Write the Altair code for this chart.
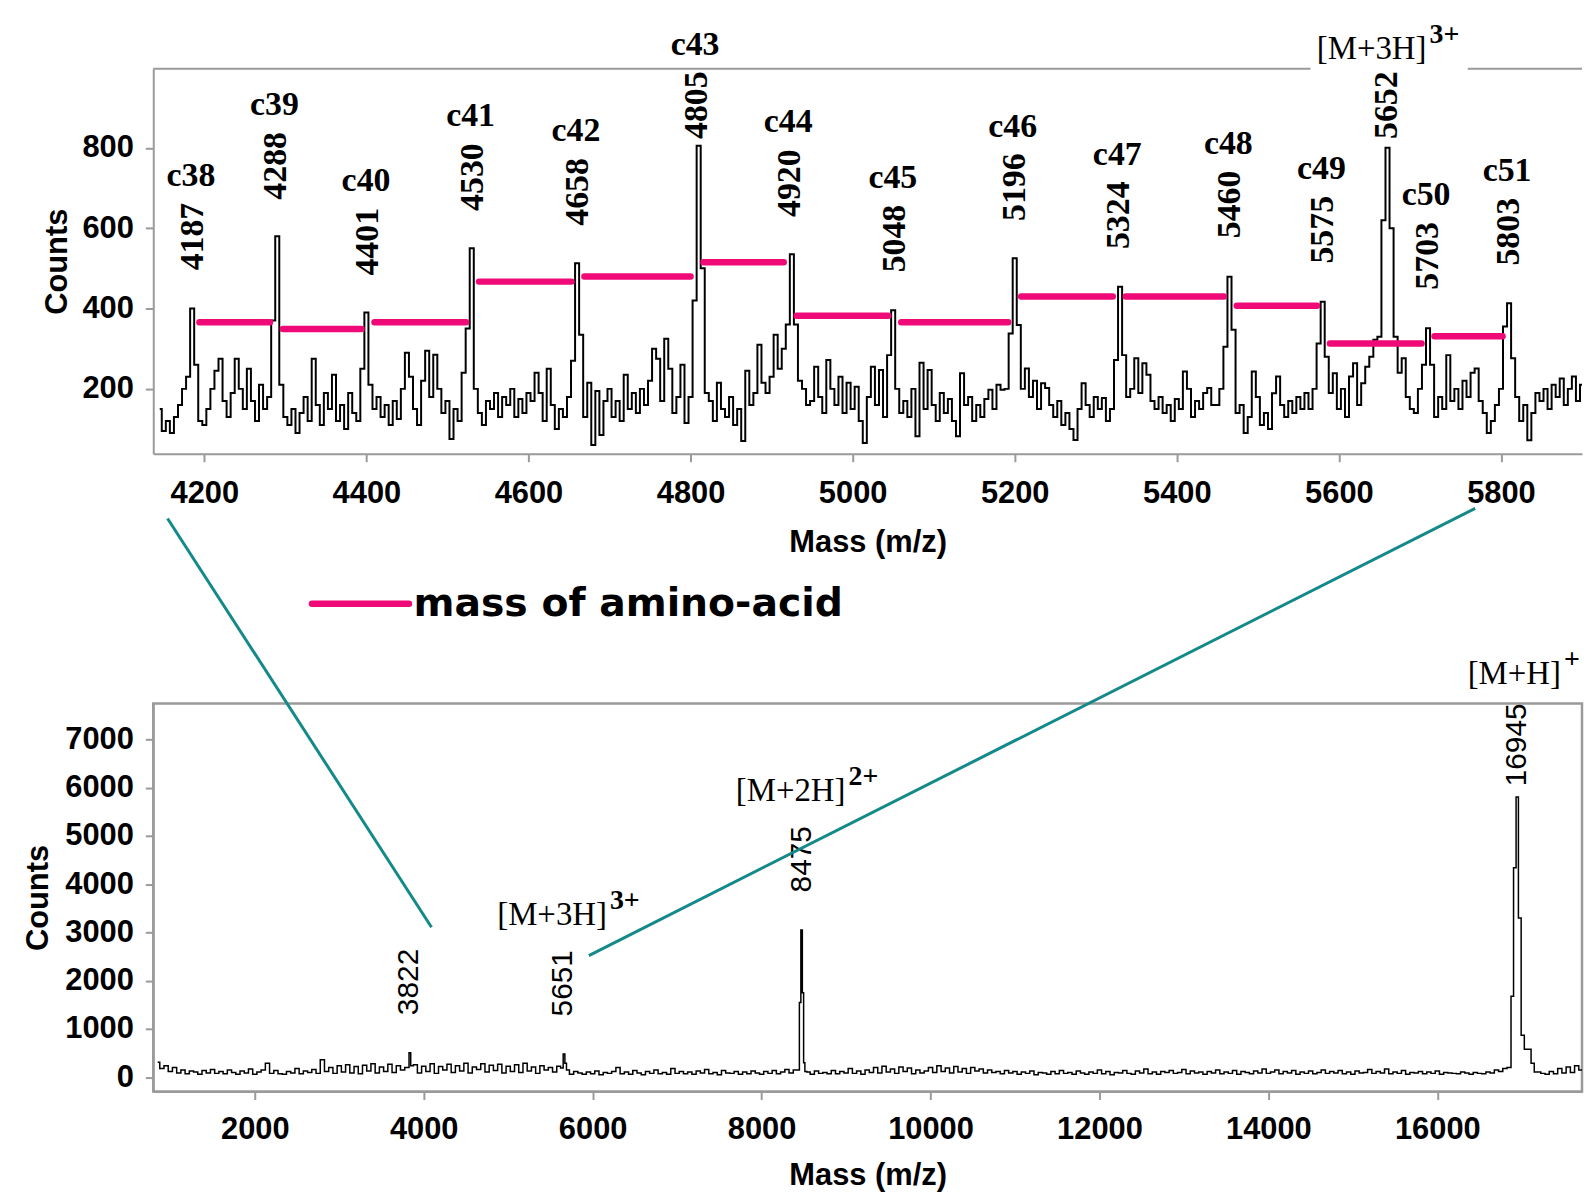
import altair as alt
import pandas as pd

# ---------------- upper panel: zoomed spectrum ----------------
TOP_START, TOP_STEP = 4145, 5          # sampling grid of the zoomed trace (m/z)
top_counts = [
    150, 95, 120, 90, 130, 160, 200, 230, 400, 260,    # 4145
    120, 110, 150, 200, 245, 275, 170, 130, 190, 275,  # 4195
    200, 150, 250, 170, 120, 210, 150, 180, 370, 580,  # 4245
    210, 130, 110, 150, 90, 140, 180, 120, 275, 160,   # 4295
    110, 190, 150, 235, 120, 160, 100, 190, 140, 120,  # 4345
    250, 390, 210, 150, 180, 130, 160, 110, 170, 125,  # 4395
    200, 290, 230, 150, 110, 220, 295, 180, 285, 200,  # 4445
    140, 170, 75, 150, 120, 240, 350, 550, 200, 140,   # 4495
    110, 170, 150, 190, 130, 180, 160, 200, 130, 175,  # 4545
    140, 190, 170, 240, 190, 120, 250, 160, 100, 150,  # 4595
    130, 180, 270, 513, 335, 130, 215, 60, 195, 85,    # 4645
    170, 200, 130, 170, 120, 235, 150, 190, 140, 200,  # 4695
    160, 220, 300, 275, 170, 325, 250, 140, 180, 260,  # 4745
    115, 180, 420, 805, 500, 190, 170, 120, 215, 150,  # 4795
    130, 180, 110, 150, 70, 245, 160, 190, 310, 215,   # 4845
    190, 230, 335, 250, 300, 360, 535, 360, 220, 200,  # 4895
    160, 170, 255, 180, 140, 272, 200, 160, 230, 140,  # 4945
    215, 150, 205, 120, 65, 180, 255, 160, 247, 130,   # 4995
    284, 396, 200, 140, 170, 130, 200, 82, 265, 150,   # 5045
    247, 160, 120, 190, 140, 175, 120, 82, 239, 160,   # 5095
    180, 120, 160, 130, 175, 198, 150, 210, 198, 200,  # 5145
    338, 525, 359, 200, 251, 180, 220, 150, 214, 202,  # 5195
    160, 130, 170, 110, 140, 100, 73, 150, 214, 160,   # 5245
    130, 180, 150, 177, 120, 150, 272, 454, 284, 180,  # 5295
    200, 276, 190, 264, 235, 170, 150, 180, 140, 160,  # 5345
    120, 175, 150, 243, 200, 130, 170, 150, 190, 202,  # 5395
    160, 160, 200, 305, 479, 347, 140, 160, 90, 130,   # 5445
    243, 180, 110, 140, 100, 189, 231, 160, 130, 170,  # 5495
    140, 180, 150, 190, 150, 200, 313, 417, 280, 190,  # 5545
    239, 150, 200, 130, 231, 264, 160, 214, 255, 280,  # 5595
    322, 330, 620, 800, 600, 330, 240, 276, 180, 150,  # 5645
    140, 200, 260, 351, 260, 130, 180, 150, 284, 170,  # 5695
    200, 150, 220, 180, 240, 251, 170, 140, 90, 120,   # 5745
    160, 200, 355, 413, 276, 180, 120, 160, 72, 140,   # 5795
    190, 170, 200, 150, 210, 180, 226, 160, 200, 231,  # 5845
    170, 210, 160, 190,                                # 5895
]

peak_names = ["c38", "c39", "c40", "c41", "c42", "c43", "c44", "c45", "c46",
              "c47", "c48", "c49", "[M+3H]", "c50", "c51"]
# annotated masses (label text) and where each peak is drawn on the axis
peak_label = [4187, 4288, 4401, 4530, 4658, 4805, 4920, 5048, 5196,
              5324, 5460, 5575, 5652, 5703, 5803]
peak_pos = [4186, 4289, 4402, 4531, 4661, 4808, 4923, 5052, 5200,
            5329, 5466, 5581, 5659, 5710, 5810]
peak_top = [402, 578, 389, 550, 513, 805, 535, 397, 525,
            455, 482, 419, 800, 354, 414]
# heights of the "mass of amino-acid" bars between consecutive c-ions
aa_levels = [366, 349, 366, 467, 480, 515, 382, 366, 430, 430, 407, 313, 331]

top_x_ticks = [4200, 4400, 4600, 4800, 5000, 5200, 5400, 5600, 5800]
top_y_ticks = [200, 400, 600, 800]

# ---------------- lower panel: full spectrum ----------------
BOT_START, BOT_STEP = 850, 50
bottom_baseline = [
    310, 180, 240, 120, 200, 90, 150, 70, 130, 110,    # 850
    60, 140, 90, 160, 80, 120, 70, 150, 100, 60,       # 1350
    130, 90, 170, 60, 110, 150, 290, 80, 140, 70,      # 1850
    60, 120, 90, 180, 70, 130, 100, 160, 80, 360,      # 2350
    120, 200, 80, 240, 110, 260, 90, 220, 70, 250,     # 2850
    130, 280, 90, 210, 120, 270, 100, 240, 150, 200,   # 3350
    130, 260, 90, 230, 120, 280, 80, 220, 150, 270,    # 3850
    100, 240, 130, 290, 90, 210, 160, 280, 110, 250,   # 4350
    140, 270, 90, 230, 120, 260, 100, 290, 130, 210,   # 4850
    80, 240, 150, 200, 110, 230, 100, 140, 60, 120,    # 5350
    90, 60, 110, 70, 130, 50, 100, 80, 120, 200,       # 5850
    70, 110, 60, 140, 90, 50, 120, 80, 150, 70,        # 6350
    100, 60, 180, 80, 120, 70, 110, 60, 130, 90,       # 6850
    160, 70, 100, 50, 140, 90, 80, 120, 60, 110,       # 7350
    70, 130, 90, 60, 120, 80, 140, 70, 110, 160,       # 7850
    90, 150, 120, 130, 110, 60, 130, 80, 100, 70,      # 8350
    140, 70, 120, 90, 180, 80, 130, 60, 150, 100,      # 8850
    200, 90, 230, 110, 170, 80, 210, 120, 190, 70,     # 9350
    150, 90, 130, 200, 100, 240, 120, 190, 90, 220,    # 9850
    110, 180, 80, 200, 130, 170, 90, 150, 100, 120,    # 10350
    70, 140, 90, 120, 60, 110, 80, 130, 50, 100,       # 10850
    90, 60, 120, 70, 140, 80, 100, 60, 130, 90,        # 11350
    60, 110, 80, 150, 70, 120, 50, 100, 90, 140,       # 11850
    80, 60, 130, 90, 170, 70, 110, 60, 120, 100,       # 12350
    140, 80, 100, 160, 70, 130, 90, 110, 60, 120,      # 12850
    90, 150, 70, 110, 80, 140, 60, 120, 100, 70,       # 13350
    130, 90, 170, 80, 110, 150, 70, 120, 90, 140,      # 13850
    60, 110, 80, 130, 70, 100, 150, 80, 120, 90,       # 14350
    140, 70, 110, 60, 130, 90, 100, 160, 80, 120,      # 14850
    90, 170, 70, 110, 80, 140, 60, 100, 90, 120,       # 15350
    70, 110, 80, 130, 60, 100, 90, 80, 70, 110,        # 15850
    90, 60, 100, 80, 70, 110, 90, 150, 120, 180,       # 16350
    200, 150, 120, 100, 90, 80, 100, 110, 80, 60,      # 16850
    120, 70, 180, 90, 210, 100, 240, 150, 260, 130,    # 17350
]
# sampled profiles of the four labelled peaks (m/z as drawn, counts)
bottom_peak_profiles = [
    ([3815, 3837, 3855], [200, 507, 240]),
    ([5640, 5662, 5680, 5700], [190, 480, 290, 150]),
    ([8440, 8455, 8475, 8490, 8505, 8520], [150, 1550, 3050, 1750, 300, 120]),
    ([16860, 16885, 16920, 16945, 16975, 17010, 17050, 17090, 17130, 17165],
     [200, 1680, 4340, 5810, 3300, 870, 580, 580, 290, 110]),
]
bottom_label_mass = [3822, 5651, 8475, 16945]
bottom_label_top = [507, 480, 3050, 5810]
ion_mass = [5651, 8475, 16945]
ion_main = ["[M+3H]", "[M+2H]", "[M+H]"]
ion_sup = ["3+", "2+", "+"]

bot_x_ticks = [2000, 4000, 6000, 8000, 10000, 12000, 14000, 16000]
bot_y_ticks = [0, 1000, 2000, 3000, 4000, 5000, 6000, 7000]

# zoom connectors (lower-panel data units)
connector_from_mass = [967, 16448]
connector_from_count = [11582, 11791]
connector_to_mass = [4092, 5955]
connector_to_count = [3110, 2522]

# ---------------- styles ----------------
PINK = "#f00a78"
TEAL = "#14898a"
GRAY = "#9a9a9a"
AXF = "Liberation Sans"
SERIF = "Liberation Serif"
SANS = "Liberation Sans"

W = 1436
H_TOP = 387
H_BOT = 390
TOP_XDOM = [4137, 5900]
TOP_YDOM = [38.5, 997]
BOT_XDOM = [798, 17713]
BOT_YDOM = [-296, 7747]

# ---------------- upper panel ----------------
top_df = pd.DataFrame({
    "mass": [TOP_START + TOP_STEP * i for i in range(len(top_counts))],
    "count": top_counts,
})

tx = alt.X("mass:Q", scale=alt.Scale(domain=TOP_XDOM, nice=False, zero=False),
           axis=alt.Axis(values=top_x_ticks, format="d", title="Mass (m/z)",
                         labelPadding=17, titlePadding=19))
ty = alt.Y("count:Q", scale=alt.Scale(domain=TOP_YDOM, nice=False, zero=False),
           axis=alt.Axis(values=top_y_ticks, format="d", title="Counts",
                         titlePadding=8))

top_line = alt.Chart(top_df).mark_line(
    interpolate="step", color="black", strokeWidth=2, clip=True
).encode(x=tx, y=ty)

# bars link consecutive c-ions (the [M+3H] peak is not part of the ladder)
c_idx = [i for i, n in enumerate(peak_names) if n.startswith("c")]
aa_df = pd.DataFrame({
    "mass": [peak_pos[c_idx[k]] + 8 for k in range(len(aa_levels))],
    "mass2": [peak_pos[c_idx[k + 1]] - 8 for k in range(len(aa_levels))],
    "count": aa_levels,
})
aa_bars = alt.Chart(aa_df).mark_rule(
    color=PINK, strokeWidth=6.5, strokeCap="round"
).encode(x=tx, x2="mass2:Q", y=ty)

lab_df = pd.DataFrame({"mass": peak_pos, "top": peak_top, "name": peak_names})
lab_df["count"] = [min(t + 93, 822) for t in peak_top]
lab_df["txt"] = [str(m) for m in peak_label]

num_text = alt.Chart(lab_df).mark_text(
    angle=270, align="left", baseline="middle", font=SERIF, fontWeight="bold",
    fontSize=34, color="black"
).encode(x=tx, y=ty, text="txt:N")

cdf = lab_df[lab_df["name"].str.startswith("c")].copy()
cdf["count"] = cdf["count"] + 235
c_text = alt.Chart(cdf).mark_text(
    align="center", baseline="middle", font=SERIF, fontWeight="bold",
    fontSize=34, color="black", dx=-2
).encode(x=tx, y=ty, text="name:N")

idf = lab_df[~lab_df["name"].str.startswith("c")].copy()
idf["count"] = idf["count"] + 225
idf["sup"] = "3+"
ion_top_main = alt.Chart(idf).mark_text(
    align="right", baseline="middle", font=SERIF, fontSize=33, color="black", dx=40
).encode(x=tx, y=ty, text="name:N")
ion_top_sup = alt.Chart(idf).mark_text(
    align="left", baseline="middle", font=SERIF, fontSize=28, fontWeight="bold",
    color="black", dx=43, dy=-14
).encode(x=tx, y=ty, text="sup:N")

frame_df = pd.DataFrame({"mass": [TOP_XDOM[0], 5759], "mass2": [5565, TOP_XDOM[1]],
                         "count": [TOP_YDOM[1], TOP_YDOM[1]]})
frame_top = alt.Chart(frame_df).mark_rule(color=GRAY, strokeWidth=2).encode(
    x=tx, x2="mass2:Q", y=ty)

top = alt.layer(top_line, frame_top, aa_bars, num_text, c_text, ion_top_main,
                ion_top_sup).properties(
    width=W, height=H_TOP, view=alt.ViewBackground(stroke="transparent"))

# ---------------- lower panel ----------------
ranges = [(min(ms), max(ms)) for ms, _ in bottom_peak_profiles]
bm, bc = [], []
for i, c in enumerate(bottom_baseline):
    m = BOT_START + BOT_STEP * i
    if any(lo <= m <= hi for lo, hi in ranges):
        continue
    bm.append(m)
    bc.append(c)
for ms, cs in bottom_peak_profiles:
    bm += ms
    bc += cs
bot_df = pd.DataFrame({"mass": bm, "count": bc}).sort_values("mass")

bx = alt.X("mass:Q", scale=alt.Scale(domain=BOT_XDOM, nice=False, zero=False),
           axis=alt.Axis(values=bot_x_ticks, format="d", title="Mass (m/z)",
                         labelPadding=15, titlePadding=16))
by = alt.Y("count:Q", scale=alt.Scale(domain=BOT_YDOM, nice=False, zero=False),
           axis=alt.Axis(values=bot_y_ticks, format="d", title="Counts",
                         titlePadding=10))

bot_line = alt.Chart(bot_df).mark_line(
    interpolate="step", color="black", strokeWidth=1.5, clip=True
).encode(x=bx, y=by)

bl_df = pd.DataFrame({"mass": bottom_label_mass,
                      "count": [min(t + 780, 6030) for t in bottom_label_top],
                      "txt": [str(m) for m in bottom_label_mass]})
bot_num = alt.Chart(bl_df).mark_text(
    angle=270, align="left", baseline="middle", font=SANS, fontSize=30,
    color="black"
).encode(x=bx, y=by, text="txt:N")

base_of = dict(zip(bottom_label_mass, bl_df["count"]))
ion_df = pd.DataFrame({
    "mass": ion_mass,
    "count": [base_of[m] + (2100 if len(str(m)) == 4 else 2320) for m in ion_mass],
    "main": ion_main, "sup": ion_sup,
})
bot_ion_main = alt.Chart(ion_df).mark_text(
    align="right", baseline="middle", font=SERIF, fontSize=33, color="black", dx=44
).encode(x=bx, y=by, text="main:N")
bot_ion_sup = alt.Chart(ion_df).mark_text(
    align="left", baseline="middle", font=SERIF, fontSize=28, fontWeight="bold",
    color="black", dx=47, dy=-14
).encode(x=bx, y=by, text="sup:N")

conn_df = pd.DataFrame({"mass": connector_from_mass, "count": connector_from_count,
                        "mass2": connector_to_mass, "count2": connector_to_count})
connectors = alt.Chart(conn_df).mark_rule(color=TEAL, strokeWidth=3).encode(
    x=bx, y=by, x2="mass2:Q", y2="count2:Q")

leg_df = pd.DataFrame({"mass": [2677], "mass2": [3825], "count": [9814],
                       "txt": ["mass of amino-acid"]})
leg_line = alt.Chart(leg_df).mark_rule(color=PINK, strokeWidth=6.5,
                                       strokeCap="round").encode(
    x=bx, x2="mass2:Q", y=by)
leg_text = alt.Chart(leg_df).mark_text(
    align="left", baseline="middle", font="DejaVu Sans", fontWeight="bold",
    fontSize=39.5, color="black", dx=102
).encode(x=bx, y=by, text="txt:N")

bottom = alt.layer(bot_line, bot_num, bot_ion_main, bot_ion_sup, connectors,
                   leg_line, leg_text).properties(
    width=W, height=H_BOT,
    view=alt.ViewBackground(stroke=GRAY, strokeWidth=2.5))

chart = alt.vconcat(top, bottom, spacing=251, bounds="flush").properties(
    padding={"left": 13, "top": 9, "right": 0, "bottom": 0},
    background="white",
).configure_axis(
    domainColor=GRAY, domainWidth=2, tickColor=GRAY, tickWidth=2, tickSize=8,
    labelFont=AXF, labelFontSize=31, labelFontWeight="bold", labelColor="black",
    titleFont=AXF, titleFontSize=31, titleFontWeight="bold",
    titleColor="black", grid=False,
).configure_axisY(labelPadding=12)

chart.save("out.html", embed_options={"renderer": "svg", "actions": False})
